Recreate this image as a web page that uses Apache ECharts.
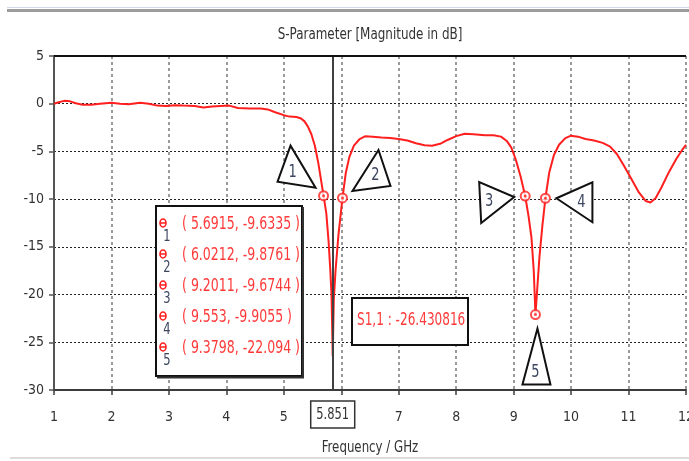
<!DOCTYPE html>
<html><head><meta charset="utf-8">
<script src="https://cdn.jsdelivr.net/npm/echarts@6/dist/echarts.min.js"></script>
<style>html,body{margin:0;padding:0;background:#fff}#c{width:689px;height:461px}</style>
</head><body><div id="c"></div>
<script>
const freq = [1.00,1.08,1.18,1.28,1.38,1.50,1.65,1.80,2.00,2.15,2.30,2.50,2.65,2.80,2.95,3.10,3.25,3.45,3.60,3.75,3.90,4.05,4.20,4.40,4.60,4.72,4.85,5.00,5.10,5.22,5.30,5.36,5.42,5.48,5.54,5.60,5.6915,5.74,5.78,5.81,5.83,5.845,5.851,5.857,5.87,5.90,5.95,6.0212,6.08,6.14,6.22,6.32,6.42,6.55,6.70,6.85,7.00,7.15,7.30,7.45,7.58,7.72,7.85,8.00,8.15,8.30,8.50,8.65,8.78,8.88,8.96,9.04,9.12,9.2011,9.26,9.31,9.35,9.3798,9.41,9.45,9.50,9.553,9.62,9.70,9.79,9.90,10.00,10.12,10.25,10.40,10.55,10.68,10.80,10.92,11.05,11.18,11.30,11.38,11.47,11.57,11.70,11.83,11.95,12.00];
const s11 = [0.00,0.15,0.30,0.25,0.05,-0.10,-0.10,0.00,0.10,0.00,-0.05,0.10,0.00,-0.20,-0.25,-0.15,-0.20,-0.25,-0.40,-0.30,-0.25,-0.20,-0.45,-0.50,-0.50,-0.60,-0.90,-1.20,-1.35,-1.40,-1.55,-1.85,-2.40,-3.20,-4.40,-6.20,-9.6335,-11.5,-14.5,-17.5,-20.0,-24.5,-26.43,-24.5,-20.5,-17.5,-13.8,-9.8761,-7.2,-5.6,-4.4,-3.7,-3.4,-3.45,-3.55,-3.6,-3.7,-3.85,-4.15,-4.35,-4.40,-4.20,-3.80,-3.40,-3.15,-3.20,-3.30,-3.30,-3.45,-3.90,-4.60,-5.90,-7.60,-9.6744,-11.8,-14.0,-17.5,-22.094,-19.5,-16.0,-12.8,-9.9055,-7.2,-5.4,-4.3,-3.6,-3.35,-3.45,-3.70,-3.85,-4.10,-4.50,-5.30,-6.50,-7.90,-9.30,-10.20,-10.35,-9.90,-8.80,-7.20,-5.80,-4.70,-4.30];
const markerFreq = [5.6915, 6.0212, 9.2011, 9.553, 9.3798];
const markerS11 = [-9.6335, -9.8761, -9.6744, -9.9055, -22.094];
const markerFreqText = ['5.6915', '6.0212', '9.2011', '9.553', '9.3798'];
const markerS11Text = ['-9.6335', '-9.8761', '-9.6744', '-9.9055', '-22.094'];
const markerNames = ['1', '2', '3', '4', '5'];
const cursorFreq = 5.851;
const cursorLabel = '5.851';
const cursorText = 'S1,1 : -26.430816';
const xTicks = [1,2,3,4,5,6,7,8,9,10,11,12];
const yTicks = [5,0,-5,-10,-15,-20,-25,-30];
const titleText = 'S-Parameter [Magnitude in dB]';
const xTitle = 'Frequency / GHz';

const FF = "'Liberation Sans Narrow','DejaVu Sans Condensed','Liberation Sans',sans-serif";
const RED = '#ff1f1f';
const chart = echarts.init(document.getElementById('c'), null, {renderer: 'canvas'});
const lineData = freq.map((f, i) => [f, s11[i]]);
const mData = markerFreq.map((f, i) => [f, markerS11[i]]);

chart.setOption({
  animation: false,
  backgroundColor: '#fff',
  grid: {left: 54, right: 3, top: 56, bottom: 71, outerBoundsMode: 'none', containLabel: false},
  xAxis: {
    type: 'value', min: xTicks[0], max: xTicks[xTicks.length - 1], interval: 1,
    axisLine: {show: true, onZero: false, lineStyle: {color: '#3c3c3c', width: 2}},
    axisTick: {show: true, length: 5, lineStyle: {color: '#3c3c3c', width: 1.5}},
    axisLabel: {margin: 20, fontSize: 14, color: '#333', fontFamily: FF,
      showMinLabel: true, showMaxLabel: true,
      formatter: v => Math.abs(v - 6) < 1e-9 ? '' : String(v)},
    splitLine: {show: true, lineStyle: {color: '#7a7a7a', type: [3, 3], width: 1.5}}
  },
  yAxis: {
    type: 'value', min: yTicks[yTicks.length - 1], max: yTicks[0], interval: 5,
    axisLine: {show: true, onZero: false, lineStyle: {color: '#555', width: 2}},
    axisTick: {show: true, length: 5, lineStyle: {color: '#555', width: 1.5}},
    axisLabel: {margin: 10, fontSize: 14, color: '#333', fontFamily: FF},
    splitLine: {show: true, lineStyle: {color: '#222', type: [2, 2], width: 1}}
  },
  series: [
    {type: 'line', data: lineData, showSymbol: false, smooth: false, z: 3,
      lineStyle: {color: RED, width: 2}, itemStyle: {color: RED},
      markLine: {symbol: ['none', 'none'], silent: true, label: {show: false},
        lineStyle: {color: '#404040', width: 2, type: 'solid'},
        data: [{xAxis: cursorFreq}]}},
    {type: 'scatter', data: mData, symbol: 'circle', symbolSize: 9, z: 4,
      itemStyle: {color: '#fff', borderColor: RED, borderWidth: 2}},
    {type: 'scatter', data: mData, symbol: 'circle', symbolSize: 3, z: 5,
      itemStyle: {color: RED}}
  ]
});

function px(x, y) { return chart.convertToPixel({gridIndex: 0}, [x, y]); }
const g = [];
function txt(x, y, text, size, fill, align, sx, z) {
  g.push({type: 'text', x: x, y: y, scaleX: sx, z: z || 15,
    style: {text: text, fontSize: size, fontFamily: FF, fill: fill, align: align, verticalAlign: 'middle'}});
}
// window frame
g.push({type: 'rect', shape: {x: 7, y: 9, width: 682, height: 3}, style: {fill: '#9c9c9c'}, z: 10});
g.push({type: 'line', shape: {x1: 7, y1: 7.5, x2: 689, y2: 7.5}, style: {stroke: '#cfd8e6', lineWidth: 1}, z: 10});
g.push({type: 'line', shape: {x1: 10, y1: 458, x2: 689, y2: 458}, style: {stroke: '#dcdcdc', lineWidth: 2}, z: 10});
// title + axis title
const pTL = px(xTicks[0], yTicks[0]), pTR = px(xTicks[xTicks.length - 1], yTicks[0]);
const midX = (pTL[0] + pTR[0]) / 2;
txt(midX, 35, titleText, 16, '#333', 'center', 0.83, 10);
txt(midX, 448, xTitle, 16, '#333', 'center', 0.82, 10);
g.push({type: 'line', shape: {x1: pTL[0], y1: pTL[1], x2: pTR[0], y2: pTR[1]}, style: {stroke: '#111', lineWidth: 2}, z: 10});
// cursor box on x axis
const pc = px(cursorFreq, yTicks[yTicks.length - 1]);
g.push({type: 'rect', shape: {x: pc[0] - 22, y: 401, width: 44, height: 27}, style: {fill: '#fff', stroke: '#333', lineWidth: 1.5}, z: 10});
txt(pc[0], 415, cursorLabel, 15, '#333', 'center', 0.85, 11);
// triangles
const triOff = [
  {pts: [[-33, -50], [-46, -14], [-8, -8]], lab: [-31, -23]},
  {pts: [[36, -48], [10, -7], [48, -12]], lab: [33, -22]},
  {pts: [[-46, -14], [-44, 27], [-11, 1]], lab: [-36, 6]},
  {pts: [[47, -16], [47, 24], [11, 0]], lab: [36, 4]},
  {pts: [[2, 14], [-13, 70], [15, 70]], lab: [0, 58]}
];
markerFreq.forEach((f, i) => {
  const p = px(f, markerS11[i]);
  const t = triOff[i];
  g.push({type: 'polygon', shape: {points: t.pts.map(q => [p[0] + q[0], p[1] + q[1]])}, style: {fill: '#fff', stroke: '#111', lineWidth: 2}, z: 12});
  txt(p[0] + t.lab[0], p[1] + t.lab[1], markerNames[i], 17, '#3c4660', 'center', 0.85, 13);
});
// legend box
g.push({type: 'rect', shape: {x: 156, y: 206, width: 146, height: 170}, style: {fill: '#fff', stroke: '#111', lineWidth: 2}, z: 14});
g.push({type: 'line', shape: {x1: 303, y1: 207, x2: 303, y2: 378}, style: {stroke: '#333', lineWidth: 2}, z: 14});
g.push({type: 'line', shape: {x1: 157, y1: 377.5, x2: 304, y2: 377.5}, style: {stroke: '#333', lineWidth: 2}, z: 14});
markerFreq.forEach((f, i) => {
  const y = 225 + i * 31;
  g.push({type: 'ellipse', shape: {cx: 163, cy: y - 2, rx: 3, ry: 4}, style: {fill: 'none', stroke: RED, lineWidth: 1.6}, z: 15});
  g.push({type: 'line', shape: {x1: 160, y1: y - 2, x2: 166, y2: y - 2}, style: {stroke: RED, lineWidth: 1.5}, z: 15});
  txt(167, y + 12, markerNames[i], 15, '#3c4660', 'center', 0.85, 15);
  txt(182, y, '( ' + markerFreqText[i] + ', ' + markerS11Text[i] + ' )', 17, '#ff3a3a', 'left', 0.82, 15);
});
// value box
g.push({type: 'rect', shape: {x: 352, y: 298, width: 116, height: 47}, style: {fill: '#fff', stroke: '#111', lineWidth: 2}, z: 14});
txt(357, 321, cursorText, 17, '#ff3a3a', 'left', 0.79, 15);

chart.setOption({graphic: g});
</script></body></html>
